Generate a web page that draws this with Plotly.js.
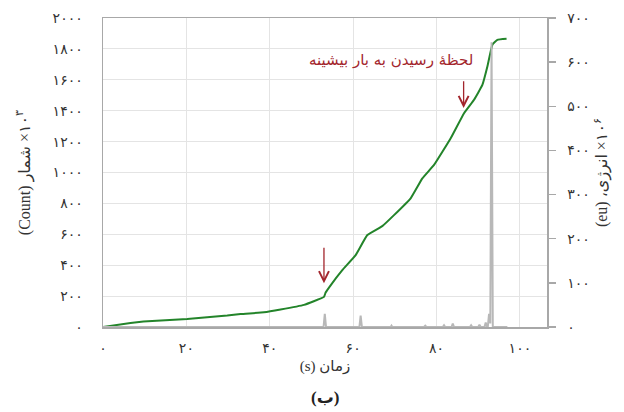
<!DOCTYPE html>
<html>
<head>
<meta charset="utf-8">
<script src="https://cdn.plot.ly/plotly-3.0.1.min.js"></script>
<style>html,body{margin:0;padding:0;background:#fff;}#chart{width:624px;height:412px;}</style>
</head>
<body>
<div id="chart"></div>
<script>
// Cumulative count (x1000) vs time
const countTime = [0, 6.6, 9.7, 20.2, 29.8, 33, 38.6, 42.6, 48.2, 53, 53.4, 54.6, 57.4, 60.6, 63.4, 67, 69.8, 73.8, 76.6, 79.4, 83.4, 86.6, 89, 91, 92.2, 93.4, 94.6, 96.8];
const countValues = [0, 26, 35, 52, 74, 84, 95, 113, 143, 195, 223, 270, 368, 465, 595, 653, 724, 833, 962, 1049, 1222, 1384, 1471, 1567, 1686, 1827, 1859, 1866];

// Energy (x10^6 eu) vs time
const energyTime = [0, 52.9, 53.2, 53.5, 61.5, 61.8, 62.1, 69, 69.2, 69.4, 77, 77.3, 77.6, 81.5, 81.8, 82.1, 83.6, 83.9, 84.2, 88, 88.3, 88.6, 90, 90.3, 90.6, 91.5, 91.8, 92.1, 92.3, 92.6, 92.9, 93.2, 93.5, 93.8, 97];
const energyValues = [0, 0, 30, 0, 0, 26, 0, 0, 3, 0, 0, 3, 0, 0, 4, 0, 0, 8, 0, 0, 4, 0, 0, 5, 0, 0, 10, 0, 0, 30, 8, 645, 0, 0, 0];

const xTickVals = [0, 20, 40, 60, 80, 100];
const xTickText = ['۰', '۲۰', '۴۰', '۶۰', '۸۰', '۱۰۰'];
const yTickVals = [0, 200, 400, 600, 800, 1000, 1200, 1400, 1600, 1800, 2000];
const yTickText = ['۰', '۲۰۰', '۴۰۰', '۶۰۰', '۸۰۰', '۱۰۰۰', '۱۲۰۰', '۱۴۰۰', '۱۶۰۰', '۱۸۰۰', '۲۰۰۰'];
const y2TickVals = [0, 100, 200, 300, 400, 500, 600, 700];
const y2TickText = ['۰', '۱۰۰', '۲۰۰', '۳۰۰', '۴۰۰', '۵۰۰', '۶۰۰', '۷۰۰'];

// annotations (data coords)
const arrow1 = {x: 53, head: 283, tail: 523};
const arrow2 = {x: 86.5, head: 1418, tail: 1600};
const noteText = 'لحظهٔ رسیدن به بار بیشینه';
const notePos = {x: 69, y: 1730};

const FONT = '"Liberation Serif", "DejaVu Sans", serif';
const TICKFONT = {family: '"DejaVu Sans", sans-serif', size: 14, color: '#333'};
const RED = '#a3262d';
const LRM = '\u200E', RLM = '\u200F';

const traces = [
  {x: energyTime, y: energyValues, yaxis: 'y2', type: 'scatter', mode: 'lines',
   line: {color: '#b8b8b8', width: 2}, hoverinfo: 'skip'},
  {x: countTime, y: countValues, type: 'scatter', mode: 'lines',
   line: {color: '#23842a', width: 2, shape: 'spline', smoothing: 0.3}, hoverinfo: 'skip'}
];

const layout = {
  width: 624, height: 412,
  margin: {l: 103, r: 77, t: 18, b: 85},
  paper_bgcolor: '#fff', plot_bgcolor: '#fff',
  showlegend: false,
  font: {family: FONT, size: 14, color: '#333'},
  xaxis: {
    range: [0, 106.5], tickvals: xTickVals, ticktext: xTickText, tickfont: TICKFONT,
    showgrid: true, gridcolor: '#e4e4e4', gridwidth: 1, zeroline: false,
    showline: true, linecolor: '#a8a8a8', linewidth: 1.5, mirror: true, ticks: '',
    ticklabelstandoff: 8,
    title: {text: '(s) ' + 'زمان', font: {family: FONT, size: 15, color: '#333'}, standoff: 5}
  },
  yaxis: {
    range: [0, 2000], tickvals: yTickVals, ticktext: yTickText, tickfont: TICKFONT,
    showgrid: true, gridcolor: '#e4e4e4', gridwidth: 1, zeroline: false,
    showline: true, linecolor: '#a8a8a8', linewidth: 1.5, mirror: true, ticks: '',
    ticklabelstandoff: 16,
    title: {text: '(Count) شمار' + LRM + ' ×' + LRM + '۱۰<sup>۳</sup>', font: {family: FONT, size: 16, color: '#333'}, standoff: 18}
  },
  yaxis2: {
    range: [0, 700], overlaying: 'y', side: 'right', tickvals: y2TickVals, ticktext: y2TickText, tickfont: TICKFONT,
    showgrid: false, zeroline: false, showline: true, linecolor: '#a8a8a8', linewidth: 1.5,
    ticks: 'outside', ticklen: 7, tickcolor: '#a8a8a8', tickwidth: 1.5, ticklabelstandoff: 9,
    title: {text: '(eu) انرژی،' + RLM + LRM + ' ×' + LRM + '۱۰<sup>۶</sup>', font: {family: FONT, size: 16, color: '#333'}, standoff: 7}
  },
  annotations: [
    {x: arrow1.x, y: arrow1.head, ax: arrow1.x, ay: arrow1.tail, axref: 'x', ayref: 'y', xref: 'x', yref: 'y',
     showarrow: true, arrowhead: 5, arrowsize: 1.5, arrowwidth: 1.3, arrowcolor: RED, text: ''},
    {x: arrow2.x, y: arrow2.head, ax: arrow2.x, ay: arrow2.tail, axref: 'x', ayref: 'y', xref: 'x', yref: 'y',
     showarrow: true, arrowhead: 5, arrowsize: 1.5, arrowwidth: 1.3, arrowcolor: RED, text: ''},
    {x: notePos.x, y: notePos.y, xref: 'x', yref: 'y', showarrow: false, text: noteText,
     font: {family: '"DejaVu Sans", sans-serif', size: 15, color: RED}},
    {x: 0.5, y: 0, xref: 'paper', yref: 'paper', yshift: -70, showarrow: false, text: '<b>(ب)</b>',
     font: {family: FONT, size: 17, color: '#222'}, yanchor: 'middle'}
  ]
};

Plotly.newPlot('chart', traces, layout, {staticPlot: true, displayModeBar: false});
</script>
</body>
</html>
